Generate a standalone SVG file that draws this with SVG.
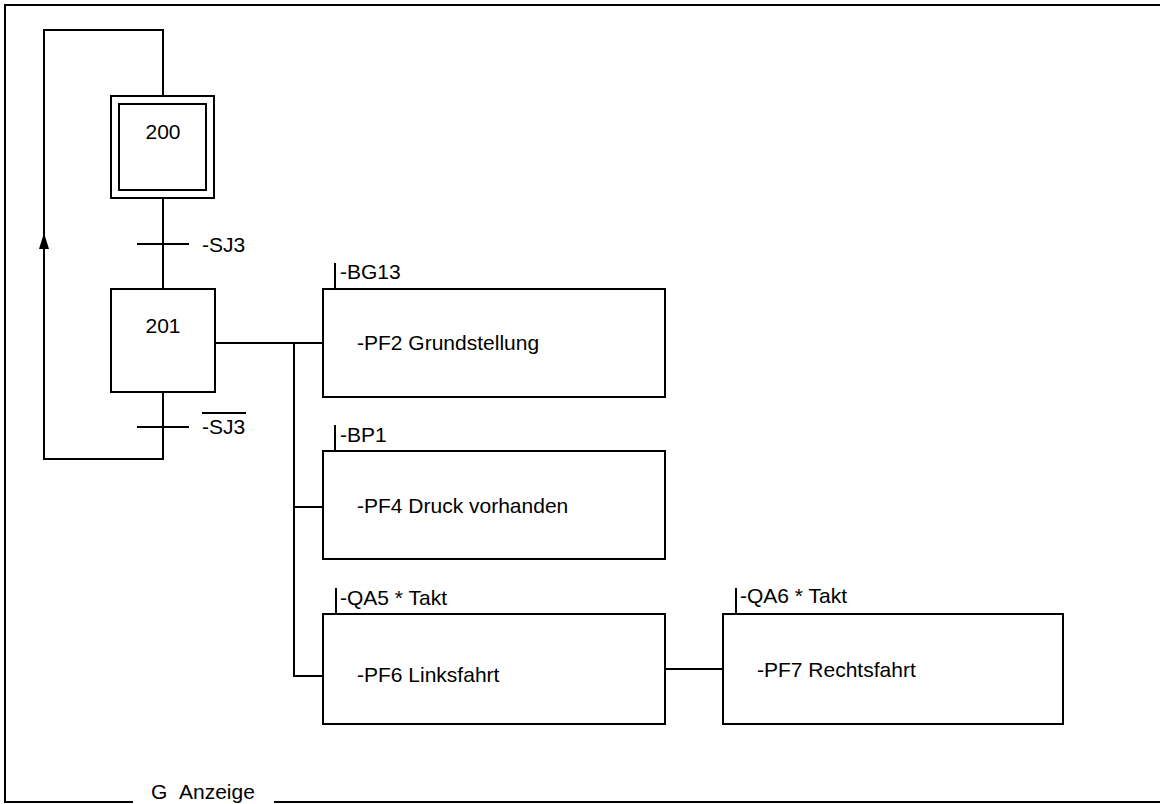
<svg xmlns="http://www.w3.org/2000/svg" width="1160" height="804" viewBox="0 0 1160 804">
  <style>
    .ln { fill: none; stroke: #000; stroke-width: 2; }
    .box { fill: #fff; stroke: #000; stroke-width: 2; }
    .t { font-family: "Liberation Sans", Arial, sans-serif; font-size: 21px; fill: #000; }
    .c { text-anchor: middle; }
  </style>

  <rect width="1160" height="804" fill="#fff"/>

  <!-- outer frame, open on the right, labelled at the bottom -->
  <g id="frame">
    <polyline class="ln" points="133,802 5,802 5,5 1160,5"/>
    <line class="ln" x1="274" y1="802" x2="1160" y2="802"/>
    <text class="t" x="151" y="799">G</text>
    <text class="t" x="179" y="799">Anzeige</text>
  </g>

  <!-- connectors -->
  <g id="connectors">
    <!-- return loop from 201 back to 200 -->
    <polyline class="ln" points="163,392 163,459 44,459 44,30 163,30 163,96"/>
    <polygon points="44,233 39,249 49,249" fill="#000"/>
    <!-- 200 to 201 -->
    <line class="ln" x1="163" y1="198" x2="163" y2="289"/>
    <!-- transitions -->
    <line class="ln" x1="137" y1="244" x2="189" y2="244"/>
    <line class="ln" x1="137" y1="427" x2="189" y2="427"/>
    <!-- action branches -->
    <line class="ln" x1="215" y1="343" x2="322" y2="343"/>
    <polyline class="ln" points="294,343 294,676 322,676"/>
    <line class="ln" x1="294" y1="507" x2="322" y2="507"/>
    <line class="ln" x1="665" y1="669" x2="723" y2="669"/>
  </g>

  <!-- transition conditions -->
  <g id="cond-sj3">
    <text class="t" x="202" y="252">-SJ3</text>
  </g>
  <g id="cond-not-sj3">
    <text class="t" x="202" y="434">-SJ3</text>
    <line class="ln" x1="202" y1="413" x2="246" y2="413"/>
  </g>

  <!-- initial step -->
  <g id="step-200">
    <rect class="box" x="111" y="96" width="103" height="102"/>
    <rect class="box" x="119" y="104" width="87" height="86"/>
    <text class="t c" x="163" y="139">200</text>
  </g>

  <!-- step 201 -->
  <g id="step-201">
    <rect class="box" x="111" y="289" width="104" height="103"/>
    <text class="t c" x="163" y="333">201</text>
  </g>

  <!-- actions -->
  <g id="action-pf2">
    <line class="ln" x1="335" y1="263" x2="335" y2="289"/>
    <text class="t" x="340" y="279">-BG13</text>
    <rect class="box" x="323" y="289" width="342" height="108"/>
    <text class="t" x="357" y="350">-PF2 Grundstellung</text>
  </g>

  <g id="action-pf4">
    <line class="ln" x1="335" y1="425" x2="335" y2="451"/>
    <text class="t" x="340" y="442">-BP1</text>
    <rect class="box" x="323" y="451" width="342" height="108"/>
    <text class="t" x="357" y="513">-PF4 Druck vorhanden</text>
  </g>

  <g id="action-pf6">
    <line class="ln" x1="336" y1="588" x2="336" y2="614"/>
    <text class="t" x="340" y="605">-QA5 * Takt</text>
    <rect class="box" x="323" y="614" width="342" height="110"/>
    <text class="t" x="357" y="682">-PF6 Linksfahrt</text>
  </g>

  <g id="action-pf7">
    <line class="ln" x1="736" y1="588" x2="736" y2="614"/>
    <text class="t" x="740" y="603">-QA6 * Takt</text>
    <rect class="box" x="723" y="614" width="340" height="110"/>
    <text class="t" x="757" y="677">-PF7 Rechtsfahrt</text>
  </g>
</svg>
